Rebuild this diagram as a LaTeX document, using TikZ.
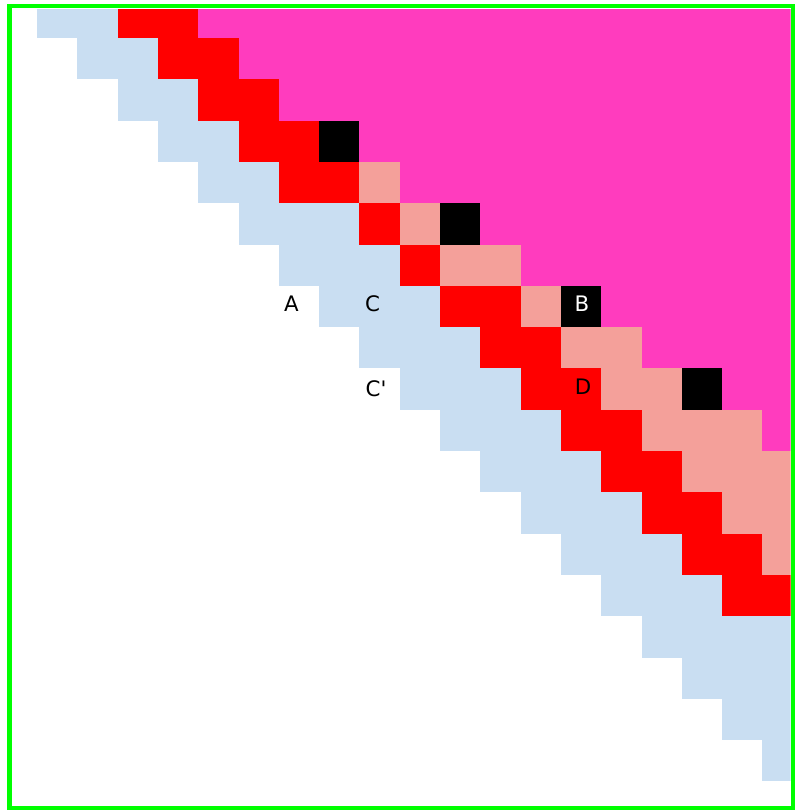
\documentclass[tikz,border=0pt]{standalone}
\usepackage{fontspec}
\newfontfamily\cellfont{DejaVu Sans}
\definecolor{skyband}{RGB}{201,222,242}
\definecolor{hotband}{RGB}{255,0,0}
\definecolor{roseband}{RGB}{244,160,154}
\definecolor{pinkfield}{RGB}{255,60,190}
\definecolor{frameline}{RGB}{0,255,0}
% one run of cells in a row: style, row, first col, last col
\newcommand{\band}[4]{\fill[#1] ({-3.3+40.3*#3},{-3.3+41.3*#2}) rectangle ({-3.3+40.3*(#4+1)},{-3.3+41.3*(#2+1)});}
\begin{document}
\begin{tikzpicture}[
x=0.75pt, y=-0.75pt,
sky/.style={fill=skyband},
hot/.style={fill=hotband},
rose/.style={fill=roseband},
field/.style={fill=pinkfield},
hole/.style={fill=black},
lbl/.style={font=\cellfont\fontsize{16pt}{16pt}\selectfont, inner sep=0pt}
]
\useasboundingbox (0,0) rectangle (796,810);
\begin{scope}
\clip (11.7,9) rectangle (790.7,806.7);
% light blue band
\foreach \r/\a/\b in {0/1/2, 1/2/3, 2/3/4, 3/4/5, 4/5/6, 5/6/8, 6/7/9, 7/8/10, 8/9/11, 9/10/12,
  10/11/13, 11/12/14, 12/13/15, 13/14/16, 14/15/17, 15/16/19, 16/17/19, 17/18/19, 18/19/19}
  {\band{sky}{\r}{\a}{\b}}
% magenta field
\foreach \r/\a in {0/5, 1/6, 2/7, 3/9, 4/10, 5/12, 6/13, 7/15, 8/16, 9/18, 10/19}
  {\band{field}{\r}{\a}{20}}
% pale band
\foreach \r/\a/\b in {4/9/9, 5/10/10, 6/11/12, 7/13/13, 8/14/15, 9/15/16, 10/16/18, 11/17/20, 12/18/20, 13/19/20}
  {\band{rose}{\r}{\a}{\b}}
% red band
\foreach \r/\a/\b in {0/3/4, 1/4/5, 2/5/6, 3/6/7, 4/7/8, 5/9/9, 6/10/10, 7/11/12, 8/12/13, 9/13/14,
  10/14/15, 11/15/16, 12/16/17, 13/17/18, 14/18/20}
  {\band{hot}{\r}{\a}{\b}}
% black cells
\foreach \r/\a in {3/8, 5/11, 7/14, 9/17}
  {\band{hole}{\r}{\a}{\a}}
\end{scope}
\draw[frameline, line width=3.4pt] (9.5,6) rectangle (793,808);
\node[lbl] (lblA) at (291.5,303.5) {A};
\node[lbl] (lblC) at (372.5,303.5) {C};
\node[lbl] (lblCp) at (376,389) {C\textquotesingle};
\node[lbl, text=white] (lblB) at (582,304) {B};
\node[lbl] (lblD) at (583,386.5) {D};
\end{tikzpicture}
\end{document}
